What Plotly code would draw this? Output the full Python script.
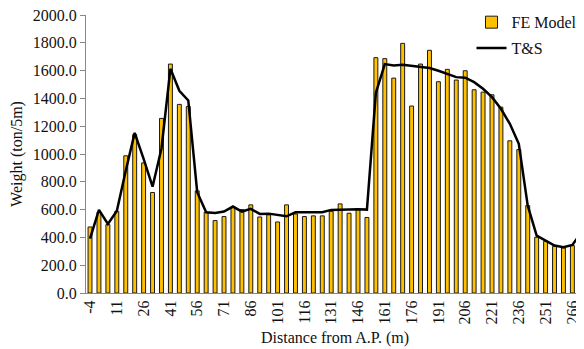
import plotly.graph_objects as go

distances = [-4 + 5 * i for i in range(56)]
fe_model = [475, 581, 492, 588, 987, 1140, 936, 723, 1256, 1647, 1357, 1342,
            735, 581, 521, 550, 617, 600, 634, 547, 562, 511, 634, 569,
            550, 555, 555, 588, 641, 574, 605, 543, 1693, 1686, 1546, 1796,
            1345, 1647, 1746, 1520, 1609, 1532, 1599, 1462, 1445, 1426, 1337, 1095,
            1032, 629, 401, 372, 336, 324, 341, 437]
ts = [392, 598, 497, 590, 880, 1152, 965, 765, 1040, 1613, 1455, 1385,
      725, 581, 576, 586, 622, 586, 605, 569, 571, 562, 552, 581,
      581, 581, 581, 598, 600, 600, 603, 600, 1440, 1647, 1637, 1642,
      1633, 1628, 1618, 1599, 1577, 1553, 1549, 1517, 1469, 1409, 1325, 1217,
      1073, 629, 413, 377, 341, 329, 346, 437]
tick_labels = [str(d) for d in distances[::3]]

idx = list(range(len(distances)))
font = "'Liberation Serif', 'Times New Roman', serif"

fig = go.Figure()
fig.add_trace(go.Bar(x=idx, y=fe_model, name="FE Model", legendgroup="a",
                     marker=dict(color="#FFC000", line=dict(color="#1a1a1a", width=1)),
                     width=0.44))
fig.add_trace(go.Scatter(x=idx, y=ts, name="T&S", mode="lines", legendgroup="b",
                         line=dict(color="black", width=2.5)))

fig.update_layout(
    width=576, height=341,
    margin=dict(l=78, r=0, t=7, b=56, autoexpand=False),
    paper_bgcolor="white", plot_bgcolor="white",
    font=dict(family=font, size=16, color="#111"),
    showlegend=True,
    legend=dict(x=0.995, y=1.035, xanchor="right", yanchor="top",
                font=dict(family=font, size=16, color="#111"),
                bgcolor="rgba(0,0,0,0)", tracegroupgap=2, traceorder="grouped",
                itemwidth=30),
    xaxis=dict(range=[-0.45, 55.3], tickmode="array", tickvals=idx[::3],
               ticktext=tick_labels, tickangle=-90, showgrid=False,
               showline=True, linecolor="#888", linewidth=1, ticks="",
               tickfont=dict(size=16), automargin=False, ticklabeloverflow="allow",
               title=dict(text="Distance from A.P. (m)", font=dict(size=16), standoff=8)),
    yaxis=dict(range=[0, 2000], tickvals=list(range(0, 2001, 200)), tickformat=".1f",
               showgrid=False, showline=True, linecolor="#888", linewidth=1,
               ticks="outside", ticklen=5, tickcolor="#888", tickfont=dict(size=16),
               automargin=False, ticklabeloverflow="allow",
               title=dict(text="Weight (ton/5m)", font=dict(size=16), standoff=6)),
    bargap=0.5,
)

fig.write_html("out.html")
